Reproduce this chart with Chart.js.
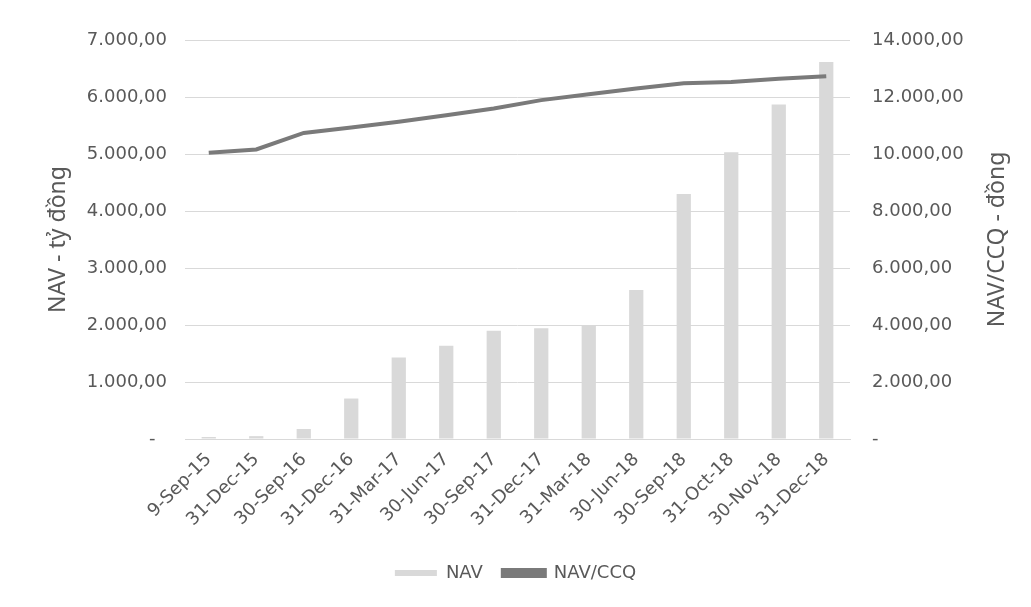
<!DOCTYPE html>
<html>
<head>
<meta charset="utf-8">
<script src="https://cdn.jsdelivr.net/npm/chart.js@4.4.1/dist/chart.umd.min.js"></script>
<style>
    body { margin: 0; background: #ffffff; }
    #Wrap { width: 1031px; height: 607px; position: relative; }
</style>
</head>
<body>
<div id="Wrap"><canvas id="ChNav"></canvas></div>
<script>
const Periodos = ['9-Sep-15', '31-Dec-15', '30-Sep-16', '31-Dec-16', '31-Mar-17', '30-Jun-17', '30-Sep-17',
    '31-Dec-17', '31-Mar-18', '30-Jun-18', '30-Sep-18', '31-Oct-18', '30-Nov-18', '31-Dec-18'];
const Nav = [35, 50, 175, 710, 1430, 1635, 1900, 1945, 2000, 2615, 4300, 5030, 5870, 6615];
const NavCcq = [10040, 10160, 10740, 10930, 11130, 11360, 11600, 11890, 12100, 12300, 12480, 12530, 12640, 12730];
const TicksNav = [0, 1000, 2000, 3000, 4000, 5000, 6000, 7000];
const TicksCcq = [0, 2000, 4000, 6000, 8000, 10000, 12000, 14000];
const TituloIzq = 'NAV - t\u1EF7 \u0111\u1ED3ng';
const TituloDer = 'NAV/CCQ - \u0111\u1ED3ng';

const TextColor = '#595959';
const Font = 'DejaVu Sans';
const FontTitulo = 'Noto Sans';

// Excel accounting format: 7.000,00 and "-" for zero
const FormatVN = (v, left) => {
    if (v === 0) {
        return left ? '-  ' : '-';
    }
    return String(v).replace(/\B(?=(\d{3})+(?!\d))/g, '.') + ',00';
};

// right axis title reads bottom-to-top like in Excel
const TituloDerPlugin = {
    id: 'tituloDer',
    afterDraw: (chart) => {
        const c = chart.ctx;
        const area = chart.chartArea;
        c.save();
        c.translate(997, (area.top + area.bottom) / 2);
        c.rotate(-Math.PI / 2);
        c.fillStyle = TextColor;
        c.font = '23px "' + FontTitulo + '"';
        c.textAlign = 'center';
        c.textBaseline = 'middle';
        c.fillText(TituloDer, 0, 0);
        c.restore();
    }
};

var ctx = document.getElementById('ChNav');
var ChNav = new Chart(ctx, {
    type: 'bar',
    data: {
        labels: Periodos,
        datasets: [{
            type: 'line',
            label: 'NAV/CCQ',
            data: NavCcq,
            yAxisID: 'yCcq',
            borderColor: '#7a7a7a',
            backgroundColor: '#7a7a7a',
            borderWidth: 4,
            pointRadius: 0,
            tension: 0,
            order: 0
        }, {
            label: 'NAV',
            data: Nav,
            yAxisID: 'yNav',
            backgroundColor: '#d9d9d9',
            borderWidth: 0,
            barPercentage: 0.3,
            categoryPercentage: 1,
            order: 1
        }]
    },
    plugins: [TituloDerPlugin],
    options: {
        responsive: true,
        maintainAspectRatio: false,
        animation: false,
        layout: { padding: { left: 0, right: 0, top: 40, bottom: 15 } },
        plugins: {
            tooltip: { enabled: false },
            legend: {
                position: 'bottom',
                reverse: true,
                labels: {
                    color: TextColor,
                    font: { family: Font, size: 18 },
                    boxWidth: 42,
                    boxHeight: 6,
                    padding: 20
                }
            }
        },
        scales: {
            x: {
                grid: { display: false },
                border: { display: true, color: '#d9d9d9' },
                ticks: {
                    color: TextColor,
                    font: { family: Font, size: 18 },
                    maxRotation: 45,
                    minRotation: 45,
                    padding: 2
                },
                afterFit: (scale) => { scale.height = 105; }
            },
            yNav: {
                position: 'left',
                min: 0,
                max: 7000,
                afterBuildTicks: (scale) => { scale.ticks = TicksNav.map(v => ({ value: v })); },
                grid: { color: '#d9d9d9', drawTicks: false },
                border: { display: false },
                ticks: {
                    color: TextColor,
                    font: { family: Font, size: 18 },
                    padding: 18,
                    callback: (v) => FormatVN(v, true)
                },
                title: {
                    display: true,
                    text: TituloIzq,
                    color: TextColor,
                    font: { family: FontTitulo, size: 23 },
                    padding: { top: 45, bottom: 0 }
                },
                afterFit: (scale) => { scale.width = 185; }
            },
            yCcq: {
                position: 'right',
                min: 0,
                max: 14000,
                afterBuildTicks: (scale) => { scale.ticks = TicksCcq.map(v => ({ value: v })); },
                grid: { display: false, drawTicks: false },
                border: { display: false },
                ticks: {
                    color: TextColor,
                    font: { family: Font, size: 18 },
                    padding: 22,
                    callback: (v) => FormatVN(v, false)
                },
                afterFit: (scale) => { scale.width = 181; }
            }
        }
    }
});
</script>
</body>
</html>
